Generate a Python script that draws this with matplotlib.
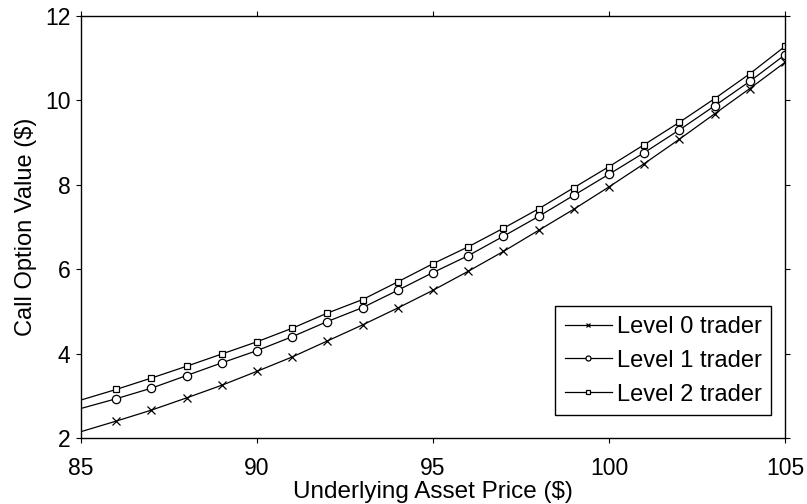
import numpy as np
import matplotlib.pyplot as plt

plt.rcParams['font.family'] = ['Liberation Sans', 'DejaVu Sans']

# asset price and call values for each trader level
precio = np.arange(85, 106)
nivel0 = np.array([2.15, 2.40, 2.66, 2.95, 3.25, 3.58, 3.92, 4.30, 4.68, 5.08, 5.50,
                   5.95, 6.42, 6.92, 7.42, 7.95, 8.50, 9.08, 9.68, 10.28, 10.90])
nivel1 = np.array([2.70, 2.93, 3.18, 3.48, 3.78, 4.07, 4.40, 4.76, 5.09, 5.50, 5.92,
                   6.32, 6.78, 7.25, 7.75, 8.25, 8.76, 9.30, 9.87, 10.45, 11.08])
nivel2 = np.array([2.90, 3.15, 3.42, 3.70, 3.99, 4.28, 4.60, 4.96, 5.28, 5.70, 6.13,
                   6.53, 6.97, 7.43, 7.93, 8.43, 8.95, 9.48, 10.04, 10.63, 11.28])
etiquetas = ['Level 0 trader', 'Level 1 trader', 'Level 2 trader']

fs = 17

fig = plt.figure(figsize=(8.07, 5.04), dpi=100)
ax = fig.add_axes([0.1004, 0.131, 0.8723, 0.8373])

ax.plot(precio, nivel0, '-', color='k', lw=0.9, marker='x', ms=5.5, mew=0.9,
        markevery=slice(1, None), label=etiquetas[0])
ax.plot(precio, nivel1, '-', color='k', lw=0.9, marker='o', ms=6, mew=0.9,
        mfc='white', markevery=slice(1, None), label=etiquetas[1])
ax.plot(precio, nivel2, '-', color='k', lw=0.9, marker='s', ms=4, mew=0.9,
        mfc='white', markevery=slice(1, None), label=etiquetas[2])

ax.set_xlim(85, 105)
ax.set_ylim(2, 12)
ax.set_xticks([85, 90, 95, 100, 105])
ax.set_yticks([2, 4, 6, 8, 10, 12])
ax.tick_params(direction='out', length=3.6, width=0.8, labelsize=16.5,
               top=True, right=True)
ax.tick_params(axis='x', pad=10)
ax.tick_params(axis='y', pad=4)
for s in ax.spines.values():
    s.set_linewidth(1)

ax.set_xlabel('Underlying Asset Price ($)', fontsize=17.5, labelpad=1)
ax.set_ylabel('Call Option Value ($)', fontsize=fs, labelpad=6)

leg = ax.legend(loc='lower right', bbox_to_anchor=(0.980, 0.0545),
                fontsize=fs, fancybox=False, framealpha=1, edgecolor='k',
                markerscale=0.6, handlelength=2.0, handletextpad=0.2,
                borderaxespad=0, labelspacing=0.5, borderpad=0.4)
leg.get_frame().set_linewidth(1)

plt.savefig('out.png', dpi=100)
